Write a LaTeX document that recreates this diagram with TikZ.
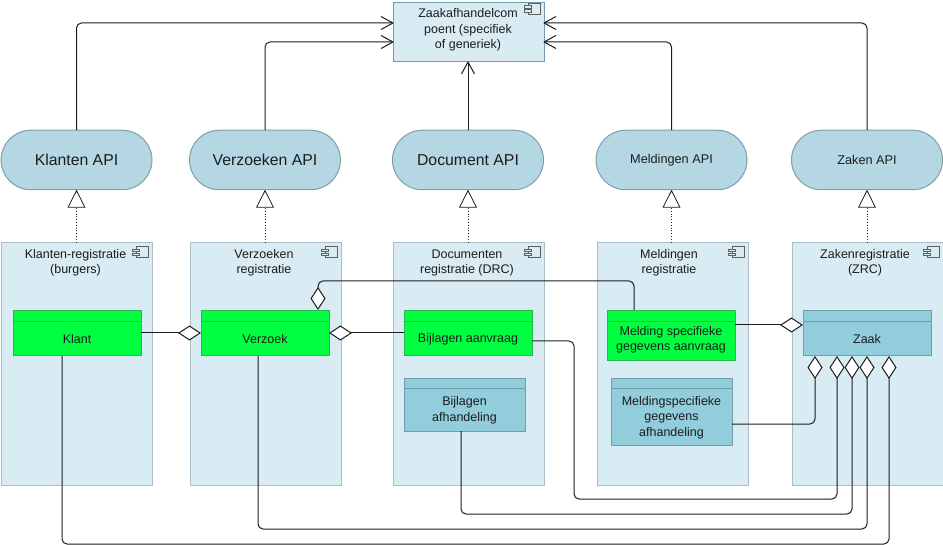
\documentclass[tikz,border=0pt]{standalone}
\usepackage{fontspec}
\setmainfont{Liberation Sans}
\usetikzlibrary{arrows.meta,shapes.misc}
\definecolor{compfill}{HTML}{DAECF3}
\definecolor{compline}{HTML}{A9BEC6}
\definecolor{apifill}{HTML}{B5D7E4}
\definecolor{apiline}{HTML}{7E9FAB}
\definecolor{greenfill}{HTML}{00FF41}
\definecolor{greenline}{HTML}{28B850}
\definecolor{bluefill}{HTML}{92CDDC}
\definecolor{blueline}{HTML}{6F9DAB}
\definecolor{ink}{HTML}{1C1C1C}
\pgfdeclarearrow{
  name=VBarb,
  setup code={\pgfarrowssettipend{0pt}\pgfarrowssetlineend{-1pt}\pgfarrowssetvisualbackend{-12pt}\pgfarrowssetbackend{-12pt}},
  drawing code={\pgfsetdash{}{0pt}\pgfsetroundjoin\pgfpathmoveto{\pgfpoint{-12pt}{6.5pt}}\pgfpathlineto{\pgfpointorigin}\pgfpathlineto{\pgfpoint{-12pt}{-6.5pt}}\pgfusepathqstroke}
}
\tikzset{
  anchored/.style={anchor=north west,outer sep=0pt,inner sep=0pt},
  compbox/.style={anchored,draw=compline,fill=compfill,line width=1pt,minimum width=151pt,minimum height=242.5pt},
  apibox/.style={rounded rectangle,outer sep=0pt,inner sep=0pt,draw=apiline,fill=apifill,line width=1pt,text=ink,minimum width=151pt,minimum height=59.5pt},
  greenbox/.style={anchored,draw=greenline,fill=greenfill,line width=1pt,minimum width=128pt},
  bluebox/.style={anchored,draw=blueline,fill=bluefill,line width=1pt,minimum width=128pt},
  txt/.style={inner sep=0pt,align=center,text=ink,font=\fontsize{12.5}{15.5}\selectfont},
  bigapi/.style={font=\fontsize{15.8}{18}\selectfont},
  smallapi/.style={font=\fontsize{12.7}{15}\selectfont},
  wire/.style={draw=ink,line width=1pt,rounded corners=5pt},
  opentip/.style={-VBarb},
  diamondtip/.style={{Diamond[length=23pt,width=15pt,fill=white,line width=1pt]}-},
  realize/.style={draw=ink,line width=0.8pt,dotted,-{Triangle[length=18pt,width=18pt,fill=white,line width=0.8pt]}},
  icon/.pic={
    \draw[draw=ink!70,line width=0.6pt,fill=none] (-16,4) rectangle (-3.5,15);
    \draw[draw=ink!70,line width=0.6pt,fill=compfill] (-20,6.5) rectangle (-13,9);
    \draw[draw=ink!70,line width=0.6pt,fill=compfill] (-20,10.5) rectangle (-13,13);
  }
}
\begin{document}
\begin{tikzpicture}[x=1pt,y=-1pt]
\useasboundingbox (0,0) rectangle (943,545);
% top component
\node[anchored,draw=blueline,fill=compfill,line width=1pt,minimum width=151pt,minimum height=59.5pt] (top) at (393,2.5) {};
\pic at (544,-1) {icon};
\node[txt] (toptext) at (468,30) {Zaakafhandelcom\\poent (specifiek\\of generiek)};
% interfaces
\node[apibox,bigapi] (iKlant) at (76.5,160) {Klanten API};
\node[apibox,bigapi] (iVerz) at (265,160) {Verzoeken API};
\node[apibox,bigapi] (iDoc) at (468,160) {Document API};
\node[apibox,smallapi] (iMeld) at (671.5,160) {Meldingen API};
\node[apibox,smallapi] (iZaak) at (867,160) {Zaken API};
% components
\node[compbox] (cKlant) at (1,242.5) {};
\node[compbox] (cVerz) at (190,242.5) {};
\node[compbox] (cDoc) at (393,242.5) {};
\node[compbox] (cMeld) at (597,242.5) {};
\node[compbox] (cZaak) at (792,242.5) {};
\foreach \c in {cKlant,cVerz,cDoc,cMeld,cZaak} {\pic at (\c.north east) {icon};}
\node[txt] (tKlant) at (75.5,263) {Klanten-registratie\\(burgers)};
\node[txt] (tVerz) at (264,263) {Verzoeken\\registratie};
\node[txt] (tDoc) at (467,263) {Documenten\\registratie (DRC)};
\node[txt] (tMeld) at (669,263) {Meldingen\\registratie};
\node[txt] (tZaak) at (865,263) {Zakenregistratie\\(ZRC)};
% entities
\node[greenbox,minimum height=45.5pt] (eKlant) at (13,310.5) {};
\node[greenbox,minimum height=45.5pt] (eVerz) at (201,310.5) {};
\node[greenbox,minimum height=45.5pt] (eBijl) at (404,310.5) {};
\node[greenbox,minimum height=50.5pt] (eMeld) at (607,310.5) {};
\node[bluebox,minimum height=45.5pt] (eZaak) at (803,310.5) {};
\node[bluebox,minimum height=52.5pt,minimum width=121pt] (eAfh) at (404,378.5) {};
\node[bluebox,minimum height=66.5pt,minimum width=121pt] (eSpec) at (611,378.5) {};
\draw[greenline,line width=1pt] (13,322) -- (141,322) (201,322) -- (329,322) (404,322) -- (532,322) (607,322) -- (735,322);
\draw[blueline,line width=1pt] (803,322) -- (931,322) (404,389) -- (525,389) (611,389) -- (732,389);
\node[txt] (nKlant) at (77,339.5) {Klant};
\node[txt] (nVerz) at (265,339.5) {Verzoek};
\node[txt] (nBijl) at (468,339.5) {Bijlagen aanvraag};
\node[txt] (nMeld) at (671,340) {Melding specifieke\\gegevens aanvraag};
\node[txt] (nZaak) at (867,339.5) {Zaak};
\node[txt] (nAfh) at (464.5,410.5) {Bijlagen\\afhandeling};
\node[txt] (nSpec) at (671.5,417.5) {Meldingspecifieke\\gegevens\\afhandeling};
% port coordinates
\coordinate (a1) at (top.west |- 0,23);
\coordinate (a2) at (top.west |- 0,42);
\coordinate (a3) at (top.east |- 0,42);
\coordinate (a4) at (top.east |- 0,23);
\coordinate (z1) at (815,356);
\coordinate (z2) at (837,356);
\coordinate (z3) at (852,356);
\coordinate (z4) at (867,356);
\coordinate (z5) at (889,356);
% serving arrows
\draw[wire,opentip] (iKlant.north) |- (a1);
\draw[wire,opentip] (iVerz.north) |- (a2);
\draw[wire,opentip] (iDoc.north) -- (iDoc.north |- top.south);
\draw[wire,opentip] (iMeld.north) |- (a3);
\draw[wire,opentip] (iZaak.north) |- (a4);
% realisations
\draw[realize] (cKlant.north -| iKlant.south) -- (iKlant.south);
\draw[realize] (cVerz.north -| iVerz.south) -- (iVerz.south);
\draw[realize] (cDoc.north -| iDoc.south) -- (iDoc.south);
\draw[realize] (cMeld.north -| iMeld.south) -- (iMeld.south);
\draw[realize] (cZaak.north -| iZaak.south) -- (iZaak.south);
% aggregations
\draw[wire,diamondtip] (eVerz.west |- 0,333) -- (eKlant.east |- 0,333);
\draw[wire,diamondtip] (eVerz.east |- 0,333) -- (eBijl.west |- 0,333);
\draw[wire,diamondtip] (eZaak.west |- 0,325) -- (eMeld.east |- 0,325);
\draw[wire,diamondtip] (318,310) -- (318,281) -- (634,281) -- (634,310);
\draw[wire,diamondtip] (z1) -- (815,424) -- (eSpec.east |- 0,424);
\draw[wire,diamondtip] (z2) -- (837,499) -- (574,499) -- (574,341) -- (eBijl.east |- 0,341);
\draw[wire,diamondtip] (z3) -- (852,514) -- (461,514) -- (461,431);
\draw[wire,diamondtip] (z4) -- (867,529) -- (258,529) -- (258,356);
\draw[wire,diamondtip] (z5) -- (889,544) -- (62,544) -- (62,356);
\end{tikzpicture}
\end{document}
